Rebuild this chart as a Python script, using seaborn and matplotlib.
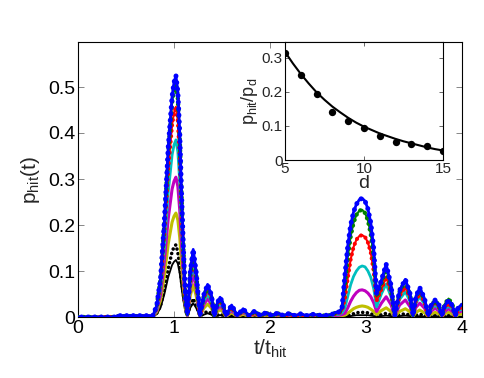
import matplotlib
matplotlib.use("Agg")
import matplotlib.pyplot as plt
import seaborn as sns

# ---------------- data ----------------
t = [0.00, 0.40, 0.41, 0.78,
     0.82, 0.86, 0.90, 0.94, 0.98, 1.00, 1.02, 1.04, 1.06, 1.08, 1.10, 1.12, 1.14,
     1.17, 1.20, 1.23, 1.27,
     1.31, 1.35, 1.39, 1.42,
     1.45, 1.48, 1.51, 1.54,
     1.60, 1.66,
     1.72, 1.78, 1.84, 1.90, 1.96, 2.02, 2.08, 2.14, 2.20, 2.26, 2.32, 2.38, 2.44,
     2.55, 2.64, 2.68, 2.72, 2.75,
     2.78, 2.81, 2.84, 2.87, 2.90, 2.93, 2.96, 2.99, 3.02, 3.05, 3.08, 3.11,
     3.16, 3.21, 3.26, 3.30,
     3.35, 3.41, 3.46, 3.49,
     3.52, 3.56, 3.61, 3.65,
     3.68, 3.72, 3.76, 3.79,
     3.82, 3.86, 3.90, 3.93,
     3.96, 4.00]

p_blue = [0, 0, 0.003, 0.003,
          0.025, 0.085, 0.21, 0.37, 0.48, 0.51, 0.525, 0.49, 0.40, 0.26, 0.14, 0.04, 0.005,
          0.10, 0.147, 0.10, 0.003,
          0.048, 0.071, 0.048, 0.002,
          0.03, 0.043, 0.03, 0.003,
          0.026, 0.003,
          0.018, 0.003, 0.013, 0.003, 0.010, 0.003, 0.009, 0.003, 0.008, 0.003, 0.007, 0.003, 0.006,
          0.003, 0.005, 0.010, 0.011, 0.020,
          0.09, 0.155, 0.20, 0.228, 0.245, 0.255, 0.258, 0.252, 0.235, 0.205, 0.15, 0.05,
          0.08, 0.115, 0.07, 0.003,
          0.058, 0.082, 0.05, 0.003,
          0.045, 0.064, 0.04, 0.003,
          0.026, 0.037, 0.026, 0.003,
          0.025, 0.036, 0.025, 0.003,
          0.02, 0.028]

p_green = [0, 0, 0.002, 0.002,
           0.024, 0.082, 0.204, 0.359, 0.465, 0.495, 0.509, 0.475, 0.388, 0.252, 0.136, 0.039, 0.005,
           0.095, 0.14, 0.095, 0.003,
           0.045, 0.066, 0.045, 0.002,
           0.028, 0.04, 0.028, 0.003,
           0.024, 0.003,
           0.016, 0.003, 0.012, 0.003, 0.009, 0.003, 0.008, 0.003, 0.007, 0.003, 0.006, 0.003, 0.005,
           0.003, 0.004, 0.009, 0.010, 0.018,
           0.07, 0.13, 0.175, 0.205, 0.222, 0.231, 0.233, 0.226, 0.21, 0.18, 0.13, 0.045,
           0.072, 0.105, 0.064, 0.003,
           0.055, 0.078, 0.048, 0.003,
           0.042, 0.06, 0.037, 0.003,
           0.025, 0.036, 0.025, 0.003,
           0.028, 0.04, 0.027, 0.003,
           0.02, 0.026]

p_red = [0, 0, 0.002, 0.002,
         0.022, 0.074, 0.183, 0.322, 0.418, 0.444, 0.457, 0.426, 0.348, 0.226, 0.122, 0.035, 0.004,
         0.088, 0.13, 0.088, 0.003,
         0.041, 0.06, 0.041, 0.002,
         0.025, 0.036, 0.025, 0.002,
         0.021, 0.002,
         0.014, 0.002, 0.010, 0.002, 0.008, 0.002, 0.007, 0.002, 0.006, 0.002, 0.005, 0.002, 0.004,
         0.002, 0.003, 0.007, 0.008, 0.014,
         0.04, 0.085, 0.125, 0.152, 0.168, 0.176, 0.178, 0.174, 0.162, 0.14, 0.10, 0.035,
         0.06, 0.088, 0.054, 0.003,
         0.046, 0.066, 0.04, 0.002,
         0.036, 0.052, 0.032, 0.002,
         0.021, 0.03, 0.021, 0.002,
         0.021, 0.03, 0.02, 0.002,
         0.016, 0.022]

p_cyan = [0, 0, 0.002, 0.002,
          0.018, 0.062, 0.154, 0.271, 0.352, 0.374, 0.385, 0.359, 0.293, 0.191, 0.103, 0.029, 0.004,
          0.078, 0.115, 0.078, 0.002,
          0.034, 0.05, 0.034, 0.002,
          0.021, 0.03, 0.021, 0.002,
          0.018, 0.002,
          0.012, 0.002, 0.009, 0.002, 0.007, 0.002, 0.006, 0.002, 0.005, 0.002, 0.004, 0.002, 0.004,
          0.002, 0.003, 0.005, 0.006, 0.009,
          0.02, 0.045, 0.07, 0.088, 0.10, 0.108, 0.111, 0.109, 0.10, 0.086, 0.062, 0.022,
          0.05, 0.072, 0.044, 0.002,
          0.038, 0.055, 0.033, 0.002,
          0.03, 0.044, 0.027, 0.002,
          0.018, 0.026, 0.018, 0.002,
          0.017, 0.024, 0.016, 0.002,
          0.013, 0.018]

p_magenta = [0, 0, 0.002, 0.002,
             0.014, 0.049, 0.122, 0.214, 0.278, 0.295, 0.304, 0.284, 0.232, 0.151, 0.081, 0.023, 0.003,
             0.064, 0.095, 0.064, 0.002,
             0.027, 0.04, 0.027, 0.001,
             0.017, 0.024, 0.017, 0.002,
             0.014, 0.002,
             0.010, 0.002, 0.007, 0.002, 0.006, 0.002, 0.005, 0.002, 0.004, 0.002, 0.003, 0.002, 0.003,
             0.002, 0.002, 0.003, 0.004, 0.005,
             0.008, 0.02, 0.034, 0.045, 0.053, 0.058, 0.059, 0.057, 0.052, 0.044, 0.031, 0.012,
             0.03, 0.044, 0.027, 0.002,
             0.026, 0.037, 0.022, 0.002,
             0.021, 0.03, 0.019, 0.002,
             0.013, 0.019, 0.013, 0.002,
             0.012, 0.018, 0.012, 0.002,
             0.01, 0.013]

p_yellow = [0, 0, 0.001, 0.001,
            0.011, 0.037, 0.09, 0.159, 0.206, 0.219, 0.226, 0.211, 0.172, 0.112, 0.06, 0.017, 0.002,
            0.047, 0.07, 0.047, 0.002,
            0.019, 0.028, 0.019, 0.001,
            0.011, 0.016, 0.011, 0.001,
            0.009, 0.001,
            0.006, 0.001, 0.005, 0.001, 0.004, 0.001, 0.003, 0.001, 0.003, 0.001, 0.002, 0.001, 0.002,
            0.001, 0.001, 0.002, 0.002, 0.003,
            0.004, 0.008, 0.013, 0.018, 0.021, 0.023, 0.024, 0.023, 0.021, 0.017, 0.012, 0.005,
            0.014, 0.02, 0.012, 0.001,
            0.012, 0.018, 0.011, 0.001,
            0.01, 0.015, 0.009, 0.001,
            0.007, 0.01, 0.007, 0.001,
            0.007, 0.01, 0.007, 0.001,
            0.005, 0.007]

p_black_dot = [0, 0, 0.001, 0.001,
               0.008, 0.025, 0.06, 0.105, 0.142, 0.152, 0.157, 0.14, 0.11, 0.075, 0.045, 0.02, 0.006,
               0.025, 0.04, 0.028, 0.002,
               0.008, 0.012, 0.008, 0.001,
               0.004, 0.006, 0.004, 0.001,
               0.004, 0.001,
               0.003, 0.001, 0.002, 0.001, 0.002, 0.001, 0.002, 0.001, 0.001, 0.001, 0.001, 0.001, 0.001,
               0.001, 0.001, 0.001, 0.001, 0.001,
               0.001, 0.003, 0.005, 0.007, 0.009, 0.010, 0.010, 0.010, 0.009, 0.007, 0.005, 0.002,
               0.005, 0.008, 0.005, 0.001,
               0.005, 0.007, 0.004, 0.001,
               0.004, 0.006, 0.004, 0.001,
               0.003, 0.004, 0.003, 0.001,
               0.003, 0.004, 0.003, 0.001,
               0.002, 0.003]

p_black = [0, 0, 0.001, 0.001,
           0.006, 0.02, 0.05, 0.087, 0.113, 0.12, 0.124, 0.116, 0.094, 0.061, 0.033, 0.009, 0.001,
           0.02, 0.03, 0.02, 0.001,
           0.005, 0.008, 0.005, 0.0,
           0.003, 0.004, 0.003, 0.0,
           0.002, 0.0,
           0.001, 0.0, 0.001, 0.0, 0.001, 0.0, 0.001, 0.0, 0.001, 0.0, 0.001, 0.0, 0.001,
           0.0, 0.0, 0.0, 0.0, 0.001,
           0.0, 0.001, 0.002, 0.003, 0.004, 0.004, 0.004, 0.004, 0.004, 0.003, 0.002, 0.001,
           0.002, 0.003, 0.002, 0.0,
           0.002, 0.003, 0.002, 0.0,
           0.001, 0.002, 0.001, 0.0,
           0.001, 0.002, 0.001, 0.0,
           0.001, 0.002, 0.001, 0.0,
           0.001, 0.001]

# inset: ratio p_hit/p_d versus d
d_points = [5, 6, 7, 8, 9, 10, 11, 12, 13, 14, 15]
ratio_points = [0.316, 0.25, 0.194, 0.142, 0.116, 0.095, 0.071, 0.054, 0.046, 0.041, 0.026]
d_fit = [5, 5.5, 6, 6.5, 7, 7.5, 8, 8.5, 9, 9.5, 10, 10.5, 11, 11.5, 12, 12.5, 13, 13.5, 14, 14.5, 15]
ratio_fit = [0.318, 0.284, 0.253, 0.225, 0.199, 0.177, 0.157, 0.14, 0.124, 0.11, 0.098, 0.088,
             0.078, 0.07, 0.062, 0.055, 0.049, 0.043, 0.037, 0.032, 0.028]

x_ticks = [0, 1, 2, 3, 4]
y_ticks = [0, 0.1, 0.2, 0.3, 0.4, 0.5]
y_tick_labels = ["0", "0.1", "0.2", "0.3", "0.4", "0.5"]
ins_x_ticks = [5, 10, 15]
ins_y_ticks = [0, 0.1, 0.2, 0.3]
ins_y_tick_labels = ["0", "0.1", "0.2", "0.3"]

# ---------------- style ----------------
sns.set_style("ticks")
plt.rcParams["font.family"] = ["Liberation Sans", "DejaVu Sans"]
plt.rcParams["mathtext.fontset"] = "custom"
plt.rcParams["mathtext.rm"] = "Liberation Sans"
plt.rcParams["mathtext.it"] = "Liberation Sans"
plt.rcParams["axes.linewidth"] = 0.8

C_B = (0, 0, 1)
C_G = (0, 0.5, 0)
C_R = (1, 0, 0)
C_C = (0, 0.75, 0.75)
C_M = (0.75, 0, 0.75)
C_Y = (0.75, 0.75, 0)
C_K = (0, 0, 0)

fig = plt.figure(figsize=(4.85, 3.78), dpi=100)
W, H = 485.0, 378.0
ax = fig.add_axes([78 / W, 61 / H, 384 / W, 275 / H])

DOT = (0, (0.01, 1.3))


def line(vals, color, lw, ls="-", z=2):
    sns.lineplot(x=t, y=vals, ax=ax, color=color, lw=lw, linestyle=ls,
                 estimator=None, sort=False, zorder=z,
                 dash_capstyle="round", solid_joinstyle="round")


line(p_black, C_K, 1.3, z=2)
line(p_black_dot, C_K, 2.6, DOT, z=2)
line(p_yellow, C_Y, 2.2, z=3)
line(p_magenta, C_M, 2.2, z=3)
line(p_cyan, C_C, 2.0, z=3)
line(p_red, C_R, 1.5, z=4)
line(p_red, C_R, 3.0, DOT, z=4)
line(p_green, C_G, 1.5, z=5)
line(p_green, C_G, 3.2, DOT, z=5)
line(p_blue, C_B, 2.0, z=6)
line(p_blue, C_B, 3.6, (0.6, (0.01, 1.3)), z=6)

ax.set_xlim(0, 4)
ax.set_ylim(0, 275 / 460)
ax.set_xticks(x_ticks)
ax.set_xticklabels([str(v) for v in x_ticks])
ax.set_yticks(y_ticks)
ax.set_yticklabels(y_tick_labels)
ax.tick_params(direction="in", length=4, width=0.6, color="0.45", labelsize=14,
               top=True, right=True, pad=2, labelcolor="black")
for s in ax.spines.values():
    s.set_visible(True)
    s.set_color("black")
    s.set_linewidth(0.8)
ax.set_xlabel(r"$\mathregular{t/t_{hit}}$", fontsize=15, labelpad=1)
ax.set_ylabel(r"$\mathregular{p_{hit}(t)}$", fontsize=15, labelpad=4)

# ---------------- inset ----------------
ins = fig.add_axes([285 / W, 218 / H, 158 / W, 118 / H])
ins.set_facecolor("white")
ins.set_zorder(10)
sns.lineplot(x=d_fit, y=ratio_fit, ax=ins, color="black", lw=1.5, estimator=None, sort=False)
sns.scatterplot(x=d_points, y=ratio_points, ax=ins, color="black", s=28, edgecolor="black",
                linewidth=0, zorder=3)
ins.set_xlim(5, 15)
ins.set_ylim(0, 0.347)
ins.set_xticks(ins_x_ticks)
ins.set_xticklabels([str(v) for v in ins_x_ticks])
ins.set_yticks(ins_y_ticks)
ins.set_yticklabels(ins_y_tick_labels)
ins.tick_params(direction="in", length=3, width=0.6, color="0.3", labelsize=11,
                top=True, right=True, pad=1.5)
for s in ins.spines.values():
    s.set_visible(True)
    s.set_color("black")
    s.set_linewidth(0.8)
ins.set_xlabel("d", fontsize=14, labelpad=-1)
ins.set_ylabel(r"$\mathregular{p_{hit}/p_d}$", fontsize=13, labelpad=1)

fig.savefig("out.png", dpi=100)
